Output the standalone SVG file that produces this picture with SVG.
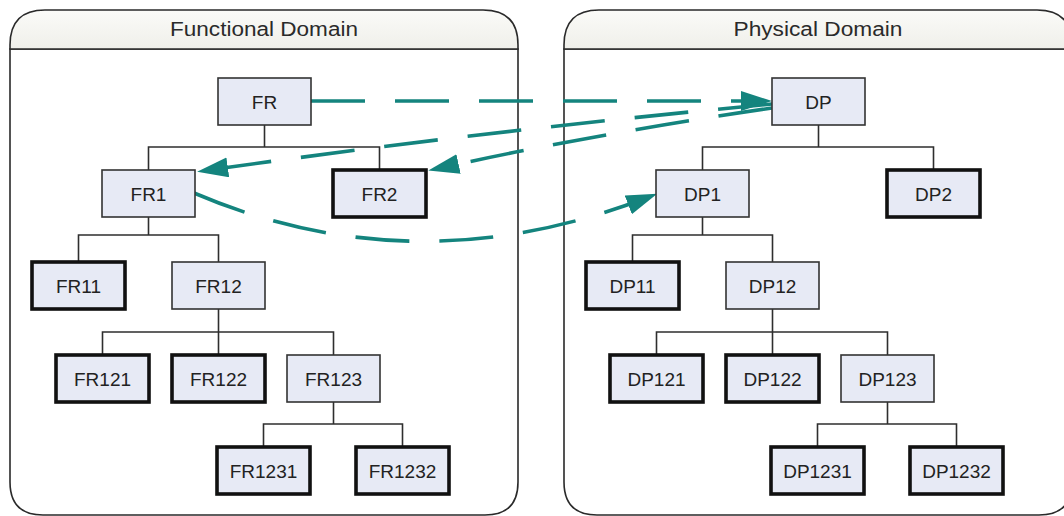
<svg xmlns="http://www.w3.org/2000/svg" width="1064" height="516" viewBox="0 0 1064 516">
  <defs>
    <linearGradient id="hdr" x1="0" y1="0" x2="0" y2="1">
      <stop offset="0" stop-color="#fbfbf8"/>
      <stop offset="1" stop-color="#efefea"/>
    </linearGradient>
    <marker id="ah" markerUnits="userSpaceOnUse" markerWidth="32" markerHeight="22" refX="19" refY="10" orient="auto">
      <path d="M0,0 L31,10 L0,20 Z" fill="#14847e"/>
    </marker>
    <style>
      .panel { fill: #ffffff; stroke: #2a2a2a; stroke-width: 1.6; }
      .hdr { fill: url(#hdr); stroke: #2a2a2a; stroke-width: 1.6; }
      .title { font-family: "Liberation Sans", Arial, sans-serif; font-size: 20px; fill: #2a2a2a; text-anchor: middle; }
      .n rect { fill: #e7eaf5; stroke: #333333; stroke-width: 1.6; }
      .n.leaf rect { stroke: #111111; stroke-width: 3.6; }
      .n text { font-family: "Liberation Sans", Arial, sans-serif; font-size: 19px; fill: #222222; text-anchor: middle; }
      .tree { fill: none; stroke: #2e2e2e; stroke-width: 1.6; }
      .map { fill: none; stroke: #14847e; stroke-width: 3.6; stroke-dasharray: 54 30; marker-end: url(#ah); }
    </style>
  </defs>

  <!-- Panels -->
  <g id="functional-domain">
    <path class="panel" d="M10,49 V482 Q10,515 43,515 H485 Q518,515 518,482 V49 Z"/>
    <path class="hdr" d="M10,49 V45 Q10,10 45,10 H483 Q518,10 518,45 V49 Z"/>
    <text class="title" x="264" y="36" textLength="188" lengthAdjust="spacingAndGlyphs">Functional Domain</text>
  </g>
  <g id="physical-domain">
    <path class="panel" d="M564,49 V482 Q564,515 597,515 H1039 Q1072,515 1072,482 V49 Z"/>
    <path class="hdr" d="M564,49 V45 Q564,10 599,10 H1037 Q1072,10 1072,45 V49 Z"/>
    <text class="title" x="818" y="36" textLength="169" lengthAdjust="spacingAndGlyphs">Physical Domain</text>
  </g>

  <!-- Connectors -->
  <g id="connectors">
    <g id="tree-lines">
      <path class="tree" d="M264.5,125 V147 M148.5,170 V147 H379.5 V170
        M148.5,217 V235 M78.5,262 V235 H218.5 V262
        M218.5,309 V355 M102.5,355 V332 H333.5 V355
        M333.5,402 V424 M263.5,447 V424 H402.5 V447"/>
      <path class="tree" d="M818.5,125 V147 M702.5,170 V147 H933.5 V170
        M702.5,217 V235 M632.5,262 V235 H772.5 V262
        M772.5,309 V355 M656.5,355 V332 H887.5 V355
        M887.5,402 V424 M817.5,447 V424 H956.5 V447"/>
    </g>
    <g id="mappings">
      <path id="FR-DP" class="map" d="M311,101 L760,101"/>
      <path id="DP-FR1" class="map" d="M772,104 Q484,131 209,170"/>
      <path id="DP-FR2" class="map" d="M772,108 Q600,133 440,168"/>
      <path id="FR1-DP1" class="map" d="M194,193 Q414,287 646,198"/>
    </g>
  </g>

  <!-- Functional nodes -->
  <g id="FR" class="n"><rect x="218" y="78" width="93" height="47"/><text x="264.5" y="108.5">FR</text></g>
  <g id="FR1" class="n"><rect x="102" y="170" width="93" height="47"/><text x="148.5" y="200.5">FR1</text></g>
  <g id="FR2" class="n leaf"><rect x="333" y="170" width="93" height="47"/><text x="379.5" y="200.5">FR2</text></g>
  <g id="FR11" class="n leaf"><rect x="32" y="262" width="93" height="47"/><text x="78.5" y="292.5">FR11</text></g>
  <g id="FR12" class="n"><rect x="172" y="262" width="93" height="47"/><text x="218.5" y="292.5">FR12</text></g>
  <g id="FR121" class="n leaf"><rect x="56" y="355" width="93" height="47"/><text x="102.5" y="385.5">FR121</text></g>
  <g id="FR122" class="n leaf"><rect x="172" y="355" width="93" height="47"/><text x="218.5" y="385.5">FR122</text></g>
  <g id="FR123" class="n"><rect x="287" y="355" width="93" height="47"/><text x="333.5" y="385.5">FR123</text></g>
  <g id="FR1231" class="n leaf"><rect x="217" y="447" width="93" height="47"/><text x="263.5" y="477.5">FR1231</text></g>
  <g id="FR1232" class="n leaf"><rect x="356" y="447" width="93" height="47"/><text x="402.5" y="477.5">FR1232</text></g>

  <!-- Physical nodes -->
  <g id="DP" class="n"><rect x="772" y="78" width="93" height="47"/><text x="818.5" y="108.5">DP</text></g>
  <g id="DP1" class="n"><rect x="656" y="170" width="93" height="47"/><text x="702.5" y="200.5">DP1</text></g>
  <g id="DP2" class="n leaf"><rect x="887" y="170" width="93" height="47"/><text x="933.5" y="200.5">DP2</text></g>
  <g id="DP11" class="n leaf"><rect x="586" y="262" width="93" height="47"/><text x="632.5" y="292.5">DP11</text></g>
  <g id="DP12" class="n"><rect x="726" y="262" width="93" height="47"/><text x="772.5" y="292.5">DP12</text></g>
  <g id="DP121" class="n leaf"><rect x="610" y="355" width="93" height="47"/><text x="656.5" y="385.5">DP121</text></g>
  <g id="DP122" class="n leaf"><rect x="726" y="355" width="93" height="47"/><text x="772.5" y="385.5">DP122</text></g>
  <g id="DP123" class="n"><rect x="841" y="355" width="93" height="47"/><text x="887.5" y="385.5">DP123</text></g>
  <g id="DP1231" class="n leaf"><rect x="771" y="447" width="93" height="47"/><text x="817.5" y="477.5">DP1231</text></g>
  <g id="DP1232" class="n leaf"><rect x="910" y="447" width="93" height="47"/><text x="956.5" y="477.5">DP1232</text></g>
</svg>
